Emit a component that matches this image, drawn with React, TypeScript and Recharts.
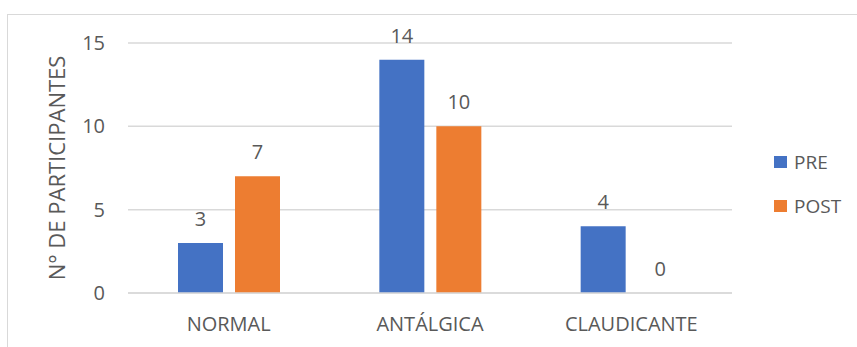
import { BarChart, Bar, XAxis, YAxis, CartesianGrid, LabelList } from "recharts";

const categories = ["NORMAL", "ANTÁLGICA", "CLAUDICANTE"];
const preValues = [3, 14, 4];
const postValues = [7, 10, 0];
const yTicks = [0, 5, 10, 15];

const series = [
  { key: "PRE", color: "#4472C4" },
  { key: "POST", color: "#ED7D31" },
];

const data = categories.map((c, i) => ({ name: c, PRE: preValues[i], POST: postValues[i] }));

const FONT = "'Open Sans', sans-serif";
const TEXT = "#595959";
const GRID = "#d9d9d9";

function YTitle(props: any) {
  const vb = props.viewBox || {};
  const cx = vb.x + vb.width / 2 - 7;
  const cy = vb.y + vb.height / 2;
  return (
    <text
      x={cx}
      y={cy}
      transform={`rotate(-90 ${cx} ${cy})`}
      textAnchor="middle"
      dy="0.36em"
      fill={TEXT}
      fontSize={22}
      fontFamily={FONT}
    >
      N° DE PARTICIPANTES
    </text>
  );
}

export default function App() {
  return (
    <div style={{ position: "absolute", left: 0, top: 0, width: 857, height: 347, background: "#fff", overflow: "hidden" }}>
      <div
        style={{
          position: "absolute",
          left: 7,
          top: 14,
          width: 900,
          height: 400,
          borderTop: `1px solid ${GRID}`,
          borderLeft: `1px solid ${GRID}`,
        }}
      />
      <BarChart
        width={857}
        height={347}
        data={data}
        margin={{ top: 43, right: 125, bottom: 0, left: 0 }}
        barSize={45}
        barGap={12}
        style={{ position: "absolute", left: 0, top: 0 }}
      >
        <CartesianGrid vertical={false} stroke={GRID} strokeWidth={1.5} />
        <XAxis
          dataKey="name"
          height={54}
          axisLine={{ stroke: GRID, strokeWidth: 1.5 }}
          tickLine={false}
          tickSize={0}
          tickMargin={24}
          tick={{ fill: TEXT, fontSize: 20, fontFamily: FONT }}
        />
        <YAxis
          width={128}
          domain={[0, 15]}
          ticks={yTicks}
          axisLine={false}
          tickLine={false}
          tickSize={0}
          tickMargin={23}
          tick={{ fill: TEXT, fontSize: 20, fontFamily: FONT }}
          label={{ content: <YTitle /> }}
        />
        {series.map((s) => (
          <Bar
            key={s.key}
            dataKey={s.key}
            fill={s.color}
            minPointSize={(v: any) => (v === 0 ? 0.01 : 0)}
            isAnimationActive={false}
          >
            <LabelList dataKey={s.key} position="top" offset={17} fill={TEXT} fontSize={20} fontFamily={FONT} />
          </Bar>
        ))}
      </BarChart>
      <div style={{ position: "absolute", left: 774, top: 140, fontFamily: FONT, fontSize: 19, color: TEXT }}>
        {series.map((s) => (
          <div key={s.key} style={{ display: "flex", alignItems: "center", height: 44 }}>
            <span style={{ width: 13, height: 12, background: s.color, marginRight: 7, display: "inline-block" }} />
            <span>{s.key}</span>
          </div>
        ))}
      </div>
    </div>
  );
}
